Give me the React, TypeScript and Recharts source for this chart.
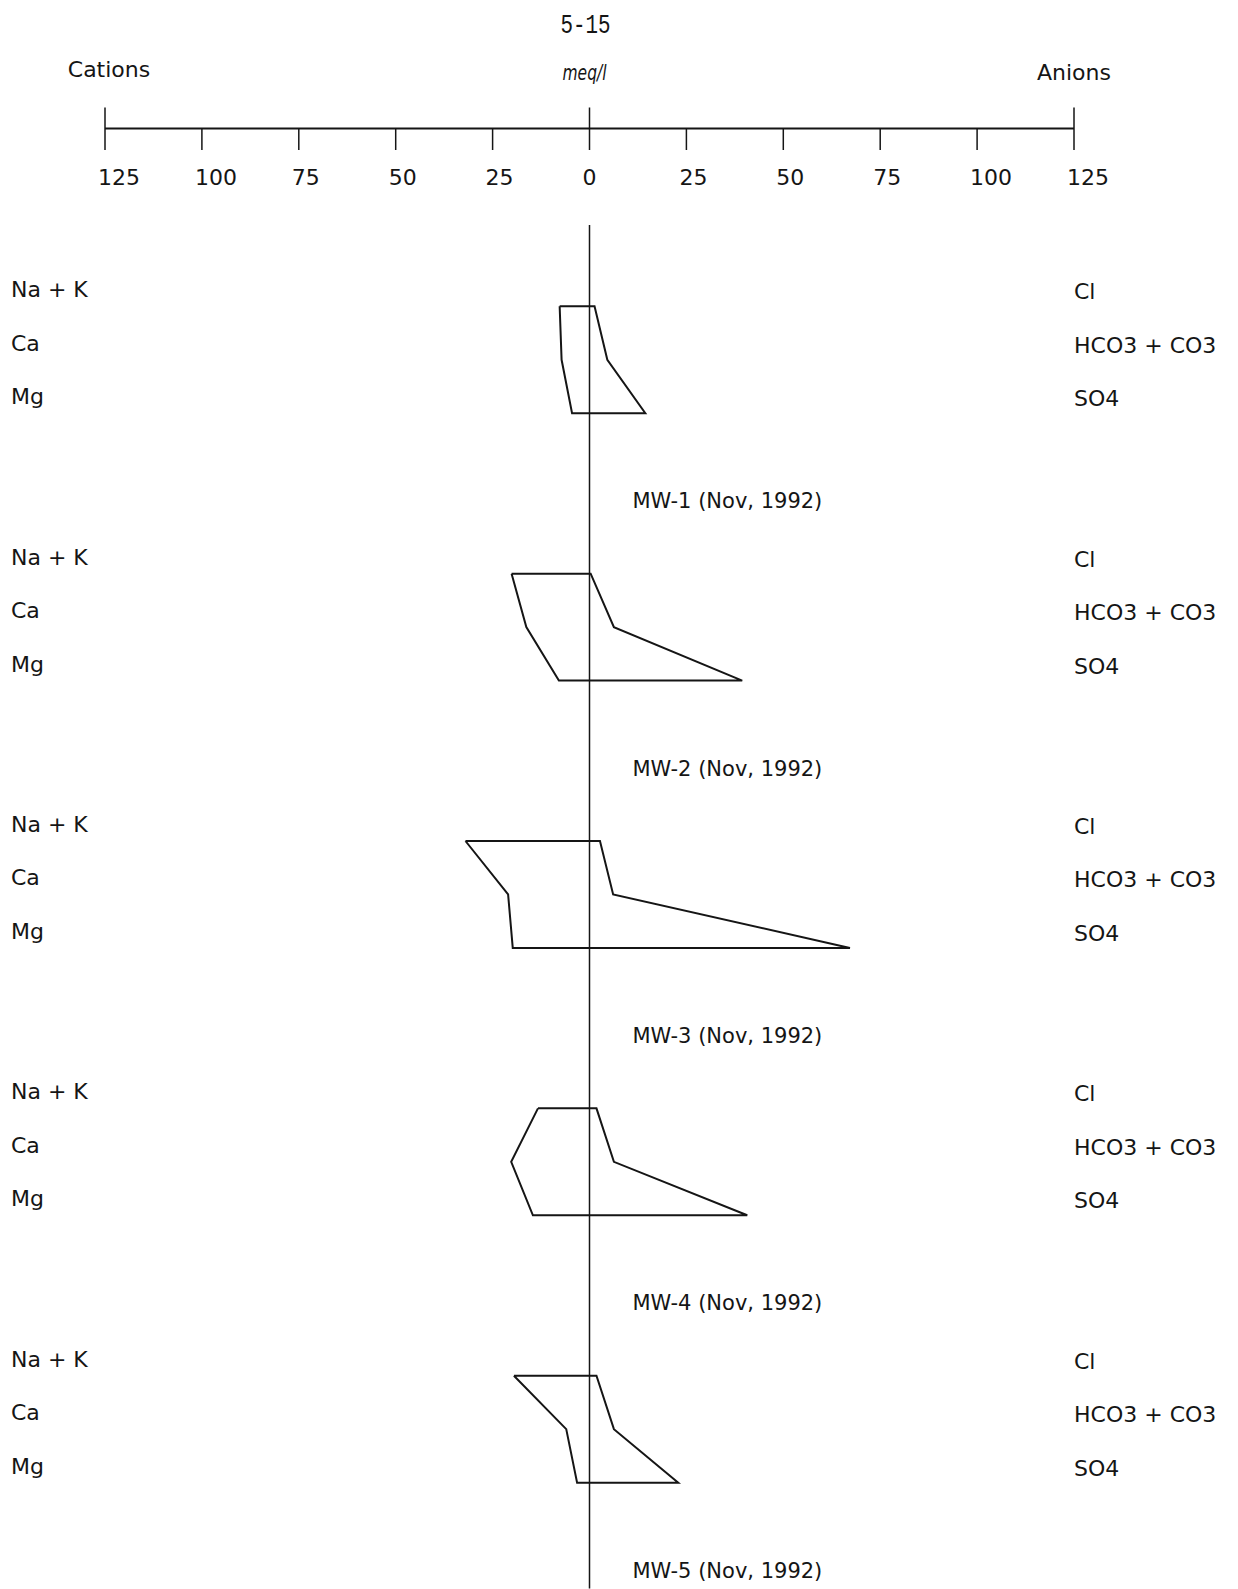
import React from "react";
import { ScatterChart, Scatter, XAxis, YAxis, ReferenceLine } from "recharts";

// Stiff diagrams, meq/l. Cations plot left of zero, anions right.
const SAMPLES = ["MW-1 (Nov, 1992)", "MW-2 (Nov, 1992)", "MW-3 (Nov, 1992)", "MW-4 (Nov, 1992)", "MW-5 (Nov, 1992)"];
const CATIONS = ["Na + K", "Ca", "Mg"];
const ANIONS = ["Cl", "HCO3 + CO3", "SO4"];

const NA_K = [7.7, 20.1, 32.0, 13.3, 19.5];
const CA = [7.2, 16.3, 21.0, 20.2, 6.0];
const MG = [4.5, 7.9, 19.8, 14.6, 3.2];
const CL = [1.3, 0.3, 2.7, 1.8, 1.8];
const HCO3 = [4.6, 6.3, 6.1, 6.3, 6.3];
const SO4 = [14.4, 39.4, 67.2, 40.7, 22.9];

const TICKS = [-125, -100, -75, -50, -25, 0, 25, 50, 75, 100, 125];

// layout
const W = 1238;
const H = 1589;
const X_PX = 3.876; // px per meq/l
const X_ZERO = 589.5;
const ROW_PX = 53.47; // px per ion row
const ROW_ZERO = 306.3;
const ROWS_PER_SAMPLE = 5;
const px = (p: number) => p / ROW_PX;

const X_MIN = -X_ZERO / X_PX;
const X_MAX = (W - X_ZERO) / X_PX;
const Y_MIN = -px(ROW_ZERO);
const Y_MAX = px(H - ROW_ZERO);
const AXIS_ROW = -px(ROW_ZERO - 128.5);
const CENTER_TOP = -px(ROW_ZERO - 225);

const INK = "#151515";
const FONT = "DejaVu Sans";

const polygons = SAMPLES.map((_, i) => {
  const r = i * ROWS_PER_SAMPLE;
  return [
    { x: -NA_K[i], y: r },
    { x: -CA[i], y: r + 1 },
    { x: -MG[i], y: r + 2 },
    { x: SO4[i], y: r + 2 },
    { x: HCO3[i], y: r + 1 },
    { x: CL[i], y: r },
    { x: -NA_K[i], y: r },
  ];
});

const cationLabels = SAMPLES.flatMap((_, i) =>
  CATIONS.map((label, j) => ({ x: -125, y: i * ROWS_PER_SAMPLE + j, label }))
);
const anionLabels = SAMPLES.flatMap((_, i) =>
  ANIONS.map((label, j) => ({ x: 125, y: i * ROWS_PER_SAMPLE + j, label }))
);
const sampleLabels = SAMPLES.map((label, i) => ({ x: 0, y: i * ROWS_PER_SAMPLE + 2, label }));
const tickLabels = TICKS.map((t) => ({ x: t, y: AXIS_ROW, label: String(Math.abs(t)) }));

type TextOpts = {
  dx?: number;
  dy?: number;
  anchor?: "start" | "middle" | "end";
  size?: number;
  family?: string;
  italic?: boolean;
  length?: number;
};

const textShape = (o: TextOpts) => (props: any) => (
  <text
    x={props.cx + (o.dx || 0)}
    y={props.cy + (o.dy || 0)}
    textAnchor={o.anchor || "start"}
    fontFamily={o.family || FONT}
    fontSize={o.size || 22}
    fontStyle={o.italic ? "italic" : "normal"}
    fill={INK}
    textLength={o.length}
    lengthAdjust={o.length ? "spacingAndGlyphs" : undefined}
  >
    {props.payload.label}
  </text>
);

const noDot = () => <g />;

export default function App() {
  return (
    <div style={{ position: "absolute", left: 0, top: 0, width: W, height: H, background: "#fff" }}>
      <ScatterChart width={W} height={H} margin={{ top: 0, right: 0, bottom: 0, left: 0 }}>
        <XAxis type="number" dataKey="x" domain={[X_MIN, X_MAX]} hide />
        <YAxis type="number" dataKey="y" domain={[Y_MIN, Y_MAX]} reversed hide />

        {/* scale bar */}
        <ReferenceLine
          segment={[{ x: -125, y: AXIS_ROW }, { x: 125, y: AXIS_ROW }]}
          stroke={INK}
          strokeWidth={2}
        />
        {TICKS.map((t) => {
          const long = t === 0 || Math.abs(t) === 125;
          return (
            <ReferenceLine
              key={t}
              segment={[
                { x: t, y: AXIS_ROW - (long ? px(21) : 0) },
                { x: t, y: AXIS_ROW + px(21.5) },
              ]}
              stroke={INK}
              strokeWidth={1.5}
            />
          );
        })}
        <ReferenceLine
          segment={[{ x: 0, y: CENTER_TOP }, { x: 0, y: Y_MAX - 0.01 }]}
          stroke={INK}
          strokeWidth={1.5}
        />

        {polygons.map((pts, i) => (
          <Scatter
            key={SAMPLES[i]}
            data={pts}
            line={{ stroke: INK, strokeWidth: 2 }}
            shape={noDot}
            isAnimationActive={false}
          />
        ))}

        <Scatter data={tickLabels} shape={textShape({ dx: -7, dy: 56.5 })} isAnimationActive={false} />
        <Scatter
          data={[{ x: -125, y: AXIS_ROW, label: "Cations" }]}
          shape={textShape({ anchor: "middle", dx: 4, dy: -52 })}
          isAnimationActive={false}
        />
        <Scatter
          data={[{ x: 125, y: AXIS_ROW, label: "Anions" }]}
          shape={textShape({ anchor: "middle", dy: -48.5 })}
          isAnimationActive={false}
        />
        <Scatter
          data={[{ x: 0, y: AXIS_ROW, label: "meq/l" }]}
          shape={textShape({ anchor: "middle", dx: -5, dy: -49, size: 22, italic: true, length: 44 })}
          isAnimationActive={false}
        />
        <Scatter
          data={[{ x: 0, y: AXIS_ROW, label: "5-15" }]}
          shape={textShape({ anchor: "middle", dx: -4, dy: -96, size: 28, family: "Liberation Mono", length: 50 })}
          isAnimationActive={false}
        />

        <Scatter data={cationLabels} shape={textShape({ dx: -94, dy: -9 })} isAnimationActive={false} />
        <Scatter data={anionLabels} shape={textShape({ dx: 0, dy: -7 })} isAnimationActive={false} />
        <Scatter data={sampleLabels} shape={textShape({ dx: 43, dy: 95, size: 21 })} isAnimationActive={false} />
      </ScatterChart>
    </div>
  );
}
